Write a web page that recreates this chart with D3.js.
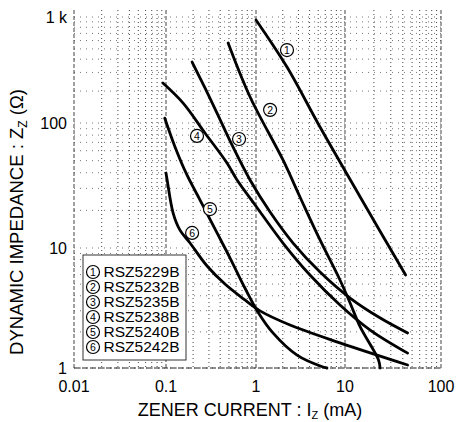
<!DOCTYPE html>
<html>
<head>
<meta charset="utf-8">
<script src="https://cdn.jsdelivr.net/npm/d3@7"></script>
<style>
  body { margin: 0; background: #fff; }
  svg { display: block; font-family: Arial, "Liberation Sans", Helvetica, sans-serif; }
</style>
</head>
<body>
<svg id="chart"></svg>
<script>
(function() {
  // part names (legend order)
  var partNames = ['RSZ5229B', 'RSZ5232B', 'RSZ5235B', 'RSZ5238B', 'RSZ5240B', 'RSZ5242B'];

  // [Iz (mA), Zz (Ω)]
  var curve1 = [[1.0, 938], [2.23, 337], [5.24, 92.8], [14.4, 25.6], [42.8, 5.95]];
  var curve2 = [[0.49, 569], [0.86, 176], [2.01, 50.6], [3.12, 25.6], [5.24, 11.6], [8.78, 5.41],
    [11.3, 3.48], [14.4, 2.2], [22.3, 1.17], [23.2, 1.0]];
  var curve3 = [[0.195, 376], [0.271, 214], [0.369, 124], [0.541, 66.7], [0.859, 35.0], [1.44, 19.4],
    [2.61, 10.96], [5.24, 6.31], [11.3, 3.83], [23.3, 2.61], [44.9, 1.96]];
  var curve4 = [[0.0925, 238], [0.155, 154], [0.271, 83.2], [0.476, 47.9], [0.616, 35.0], [0.977, 22.1],
    [2.01, 10.96], [4.04, 5.95], [8.78, 3.35], [18.3, 2.07], [44.9, 1.33]];
  var curve5 = [[0.097, 111], [0.126, 64.4], [0.171, 38.4], [0.239, 24.2], [0.35, 14.2], [0.515, 8.25],
    [0.753, 4.64], [1.05, 2.93], [1.55, 1.96], [2.89, 1.28], [5.66, 1.02], [6.27, 1.0]];
  var curve6 = [[0.1, 39.8], [0.103, 35.0], [0.12, 19.05], [0.143, 13.9], [0.185, 10.96], [0.286, 7.08],
    [0.452, 5.01], [0.753, 3.69], [1.11, 2.99], [2.41, 2.28], [8.78, 1.62], [44.9, 1.06]];

  // where the circled numbers sit on the chart [Iz, Zz]
  var markers = [[2.23, 488], [1.44, 133], [0.648, 74.5], [0.221, 78.8], [0.308, 20.5], [0.195, 13.2]];

  // tick labels
  var xTicks = [0.01, 0.1, 1, 10, 100];
  var xTickLabels = ['0.01', '0.1', '1', '10', '100'];
  var yTicks = [1, 10, 100, 1000];
  var yTickLabels = ['1', '10', '100', '1 k'];

  var curves = [curve1, curve2, curve3, curve4, curve5, curve6];

  var width = 458;
  var height = 422;
  var plotTop = 10;

  // the scanned decades are not all the same length, so map each one
  var x = d3.scaleLog()
    .domain(xTicks)
    .range([74, 166, 256, 345, 441]);

  var y = d3.scaleLog()
    .domain(yTicks)
    .range([368, 248, 123, 17]);

  var svg = d3.select('#chart')
    .attr('width', width)
    .attr('height', height);

  // 网格 grid
  var grid = svg.append('g');

  grid.selectAll('line.hgrid')
    .data(y.ticks())
    .enter()
    .append('line')
    .attr('class', 'hgrid')
    .attr('x1', x(0.01))
    .attr('x2', x(100))
    .attr('y1', function(d) { return y(d); })
    .attr('y2', function(d) { return y(d); })
    .attr('stroke', '#777')
    .attr('stroke-width', 1)
    .attr('stroke-dasharray', '1,5');

  grid.selectAll('line.vgrid')
    .data(x.ticks())
    .enter()
    .append('line')
    .attr('class', 'vgrid')
    .attr('x1', function(d) { return x(d); })
    .attr('x2', function(d) { return x(d); })
    .attr('y1', plotTop)
    .attr('y2', y(1))
    .attr('stroke', '#444')
    .attr('stroke-width', 1)
    .attr('stroke-dasharray', function(d) {
      return xTicks.indexOf(d) >= 0 ? '4,2' : '1,3';
    });

  // 边框 axes lines
  grid.append('line')
    .attr('x1', x(0.01)).attr('x2', x(100))
    .attr('y1', y(1)).attr('y2', y(1))
    .attr('stroke', '#222')
    .attr('stroke-dasharray', '6,2');

  // tick labels
  svg.append('g')
    .selectAll('text')
    .data(xTicks)
    .enter()
    .append('text')
    .attr('x', function(d) { return x(d); })
    .attr('y', 386)
    .attr('dy', '0.36em')
    .attr('text-anchor', 'middle')
    .attr('font-size', 16)
    .text(function(d, i) { return xTickLabels[i]; });

  svg.append('g')
    .selectAll('text')
    .data(yTicks)
    .enter()
    .append('text')
    .attr('x', 67)
    .attr('y', function(d) { return y(d); })
    .attr('dy', '0.36em')
    .attr('text-anchor', 'end')
    .attr('font-size', 16)
    .text(function(d, i) { return yTickLabels[i]; });

  // axis titles
  var xTitle = svg.append('text')
    .attr('x', 250)
    .attr('y', 416)
    .attr('text-anchor', 'middle')
    .attr('font-size', 18)
    .text('ZENER CURRENT : I');
  xTitle.append('tspan').attr('font-size', 11).attr('dy', 3).text('Z');
  xTitle.append('tspan').attr('dy', -3).text(' (mA)');

  var yTitle = svg.append('text')
    .attr('transform', 'translate(16,222) rotate(-90)')
    .attr('dy', '0.36em')
    .attr('text-anchor', 'middle')
    .attr('font-size', 18.5)
    .text('DYNAMIC IMPEDANCE : Z');
  yTitle.append('tspan').attr('font-size', 12).attr('dy', 4).text('Z');
  yTitle.append('tspan').attr('dy', -4).text(' (Ω)');

  // 曲线 curves
  var line = d3.line()
    .x(function(d) { return x(d[0]); })
    .y(function(d) { return y(d[1]); })
    .curve(d3.curveCatmullRom.alpha(0.5));

  svg.append('g')
    .selectAll('path')
    .data(curves)
    .enter()
    .append('path')
    .attr('d', line)
    .attr('fill', 'none')
    .attr('stroke', '#000')
    .attr('stroke-width', 2.8)
    .attr('stroke-linecap', 'round');

  // circled number helper
  function circled(g, cx, cy, n) {
    g.append('circle')
      .attr('cx', cx)
      .attr('cy', cy)
      .attr('r', 6.5)
      .attr('fill', '#fff')
      .attr('stroke', '#000')
      .attr('stroke-width', 1.2);
    g.append('text')
      .attr('x', cx)
      .attr('y', cy)
      .attr('dy', '0.36em')
      .attr('text-anchor', 'middle')
      .attr('font-size', 10.5)
      .text(n);
  }

  var marks = svg.append('g');
  markers.forEach(function(d, i) {
    circled(marks, x(d[0]), y(d[1]), i + 1);
  });

  // 图例 legend
  var legend = svg.append('g');
  legend.append('rect')
    .attr('x', 83)
    .attr('y', 255)
    .attr('width', 103)
    .attr('height', 105)
    .attr('fill', '#fff')
    .attr('stroke', '#333')
    .attr('stroke-width', 1);

  partNames.forEach(function(name, i) {
    var cy = 272 + i * 15;
    circled(legend, 93, cy, i + 1);
    legend.append('text')
      .attr('x', 103.5)
      .attr('y', cy)
      .attr('dy', '0.36em')
      .attr('font-size', 14)
      .attr('textLength', 76)
      .attr('lengthAdjust', 'spacingAndGlyphs')
      .text(name);
  });
}());
</script>
</body>
</html>
